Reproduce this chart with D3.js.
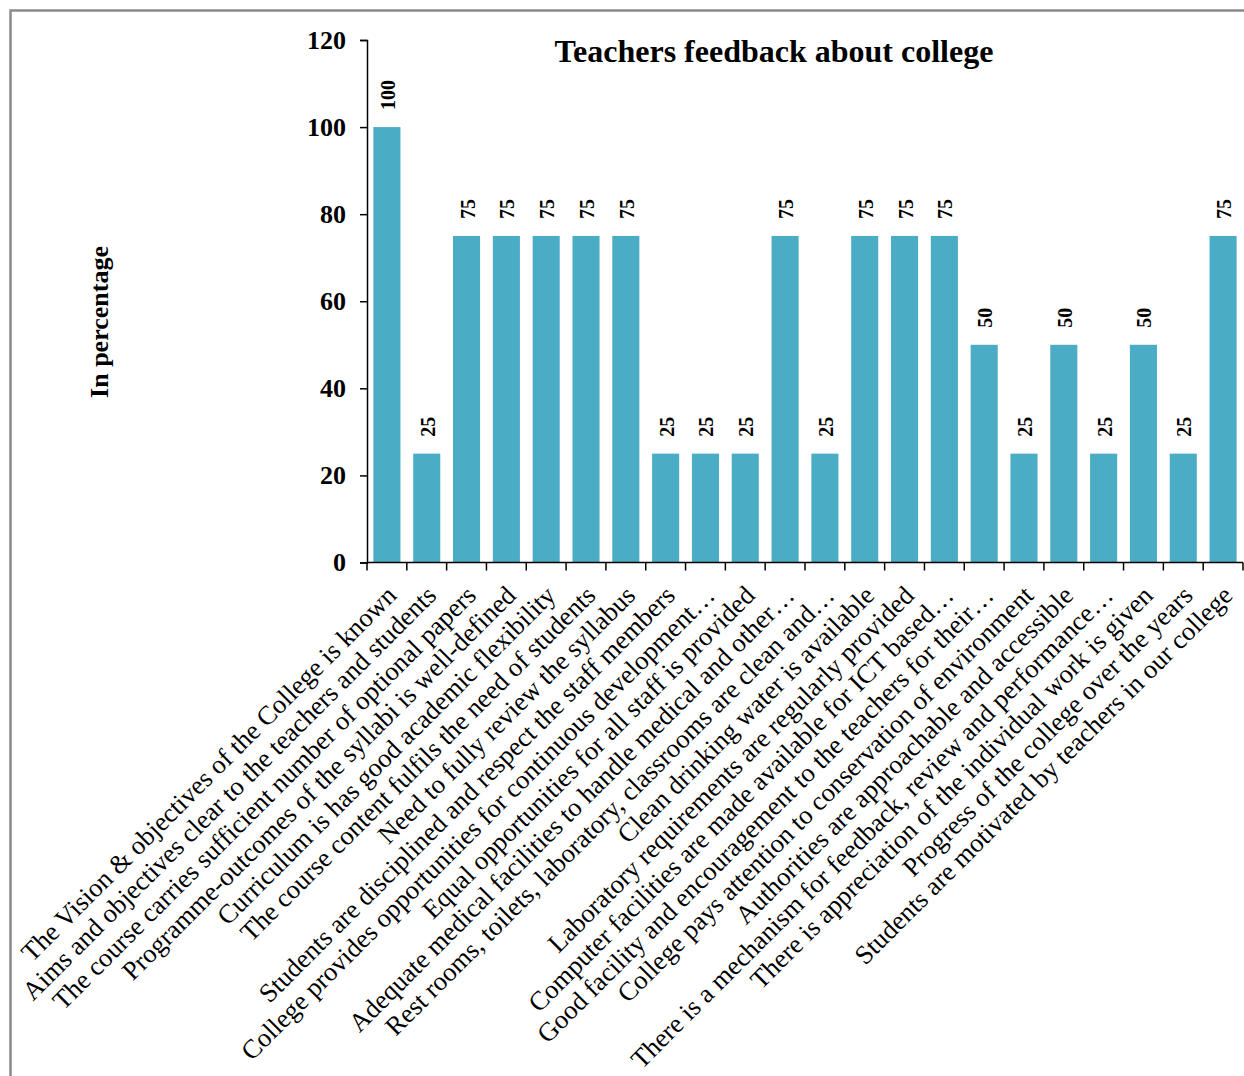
<!DOCTYPE html>
<html>
<head>
<meta charset="utf-8">
<script src="https://cdn.jsdelivr.net/npm/d3@7"></script>
<style>
  body { margin: 0; background: #fff; }
  svg { display: block; font-family: "Liberation Serif", "Times New Roman", serif; }
</style>
</head>
<body>
<div id="chart"></div>
<script>
// data
const categories = [
  "The Vision & objectives of the College is known",
  "Aims and objectives clear to the teachers and students",
  "The course carries sufficient number of optional papers",
  "Programme-outcomes of the syllabi is well-defined",
  "Curriculum is has good academic flexibility",
  "The course content fulfils the need of students",
  "Need to fully review the syllabus",
  "Students are disciplined and respect the staff members",
  "College provides opportunities for continuous development…",
  "Equal opportunities for all staff is provided",
  "Adequate medical facilities to handle medical and other…",
  "Rest rooms, toilets, laboratory, classrooms are clean and…",
  "Clean drinking water is available",
  "Laboratory requirements are regularly provided",
  "Computer facilities are made available for ICT based…",
  "Good facility and encouragement to the teachers for their…",
  "College pays attention to conservation of environment",
  "Authorities are approachable and accessible",
  "There is a mechanism for feedback, review and performance…",
  "There is appreciation of the individual work is given",
  "Progress of the college over the years",
  "Students are motivated by teachers in our college"
];
const values = [100, 25, 75, 75, 75, 75, 75, 25, 25, 25, 75, 25, 75, 75, 75, 50, 25, 50, 25, 50, 25, 75];
const yTicks = [0, 20, 40, 60, 80, 100, 120];

(function () {
  const W = 1244, H = 1076;
  const plotLeft = 367, plotRight = 1243, plotTop = 40, plotBottom = 562.5;

  const svg = d3.select("#chart").append("svg")
    .attr("width", W)
    .attr("height", H);

  // outer frame (only top and left edges show)
  svg.append("rect")
    .attr("x", 10.5).attr("y", 10.5)
    .attr("width", 1400).attr("height", 1200)
    .attr("fill", "none")
    .attr("stroke", "#8a8a8a")
    .attr("stroke-width", 2.5);

  const x = d3.scaleBand()
    .domain(categories)
    .range([plotLeft, plotRight])
    .paddingInner(0.32)
    .paddingOuter(0.16);

  const y = d3.scaleLinear()
    .domain([0, 120])
    .range([plotBottom, plotTop]);

  // bars
  svg.selectAll(".bar")
    .data(values)
    .enter()
    .append("rect")
    .attr("class", "bar")
    .attr("x", (d, i) => x(categories[i]))
    .attr("y", d => y(d))
    .attr("width", x.bandwidth())
    .attr("height", d => y(0) - y(d))
    .attr("fill", "#4bacc6");

  // value labels
  svg.selectAll(".val")
    .data(values)
    .enter()
    .append("text")
    .attr("class", "val")
    .attr("transform", (d, i) => {
      const cx = x(categories[i]) + x.bandwidth() / 2;
      return `translate(${cx + 8}, ${y(d) - 17}) rotate(-90)`;
    })
    .attr("text-anchor", "start")
    .style("font-size", "20px")
    .style("font-weight", "bold")
    .text(d => d);

  // y axis
  const yAxis = svg.append("g")
    .attr("transform", `translate(${plotLeft}, 0)`)
    .call(d3.axisLeft(y).tickValues(yTicks).tickSize(7).tickPadding(14));
  yAxis.select(".domain").attr("stroke", "#000").attr("stroke-width", 1.5);
  yAxis.selectAll(".tick line").attr("stroke", "#000").attr("stroke-width", 1.5);
  yAxis.selectAll(".tick text")
    .attr("fill", "#000")
    .style("font-family", "'Liberation Serif', 'Times New Roman', serif")
    .style("font-size", "26px")
    .style("font-weight", "bold");

  // x axis line + boundary ticks
  svg.append("line")
    .attr("x1", plotLeft).attr("x2", plotRight)
    .attr("y1", plotBottom).attr("y2", plotBottom)
    .attr("stroke", "#000").attr("stroke-width", 1.5);

  const step = x.step();
  const bounds = d3.range(categories.length + 1).map(i => plotLeft + i * step);
  svg.selectAll(".xtick")
    .data(bounds)
    .enter()
    .append("line")
    .attr("x1", d => d).attr("x2", d => d)
    .attr("y1", plotBottom).attr("y2", plotBottom + 8)
    .attr("stroke", "#000").attr("stroke-width", 1.5);

  // category labels
  svg.selectAll(".cat")
    .data(categories)
    .enter()
    .append("text")
    .attr("class", "cat")
    .attr("transform", d => {
      const cx = x(d) + x.bandwidth() / 2;
      return `translate(${cx + 11}, 597) rotate(-45)`;
    })
    .attr("text-anchor", "end")
    .style("font-size", "26.5px")
    .text(d => d);

  // title
  svg.append("text")
    .attr("x", 774)
    .attr("y", 62)
    .attr("text-anchor", "middle")
    .style("font-size", "32px")
    .style("font-weight", "bold")
    .text("Teachers feedback about college");

  // y axis title
  svg.append("text")
    .attr("transform", "translate(108, 322) rotate(-90)")
    .attr("text-anchor", "middle")
    .style("font-size", "26px")
    .style("font-weight", "bold")
    .text("In percentage");
})();
</script>
</body>
</html>
